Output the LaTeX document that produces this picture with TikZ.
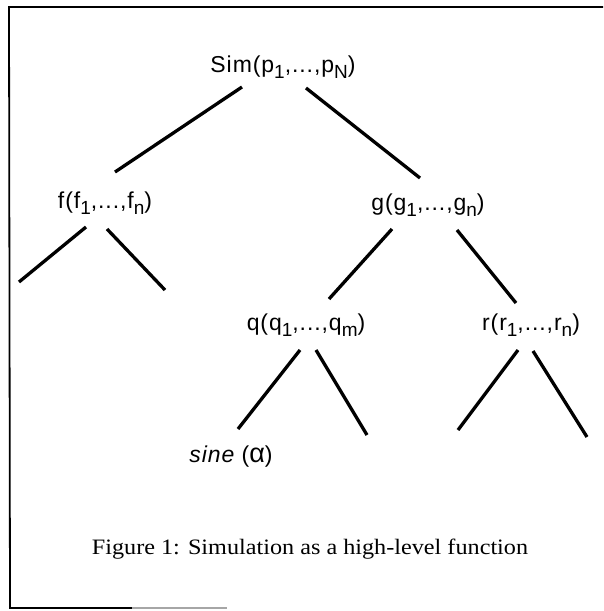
\documentclass[tikz,border=0pt]{standalone}
\usepackage{fontspec}
\setmainfont{Liberation Serif}
\newfontfamily\labfont[LetterSpace=4]{Liberation Sans}
\newcommand{\dn}[1]{\raisebox{-0.24em}{\fontsize{19}{19}\selectfont #1}}
\tikzset{
  lab/.style={inner sep=0pt, font=\labfont\fontsize{23}{26}\selectfont},
  capt/.style={inner sep=0pt, font=\addfontfeature{FakeStretch=1.1}\fontsize{22}{26}\selectfont},
  branch/.style={line width=3.3pt},
  frame/.style={line width=1.8pt}
}
\begin{document}
\begin{tikzpicture}[x=1pt,y=-1pt]
\useasboundingbox (0,0) rectangle (603,611);
% frame
\coordinate (tl) at (9,7);
\coordinate (tr) at (603,7);
\coordinate (bl) at (10,608);
\coordinate (bm) at (132,608);
\coordinate (br) at (227,608);
\draw[frame] (tr) -- (tl) -- (bl) -- (bm);
\draw[frame, gray!70] (bm) -- (br);
% labels
\node[lab] (sim) at (283,67) {Sim(p\dn{1},...,p\dn{N})};
\node[lab] (f) at (105,203) {f(f\dn{1},...,f\dn{n})};
\node[lab] (g) at (428,205) {g(g\dn{1},...,g\dn{n})};
\node[lab] (q) at (306,325) {q(q\dn{1},...,q\dn{m})};
\node[lab] (r) at (531,325) {r(r\dn{1},...,r\dn{n})};
\node[lab] (sine) at (231,457) {{\itshape sine} ({\fontsize{27}{27}\selectfont α})};
\node[capt] (cap) at (310,549) {Figure 1: Simulation as a high-level function};
% connector end points
\coordinate (simL) at (242,87);
\coordinate (simR) at (306,88);
\coordinate (fIn) at (115,172);
\coordinate (gIn) at (420,178);
\coordinate (fL) at (86,227);
\coordinate (fR) at (107,229);
\coordinate (fLe) at (19,282);
\coordinate (fRe) at (165,290);
\coordinate (gL) at (392,229);
\coordinate (gR) at (457,230);
\coordinate (qIn) at (329,299);
\coordinate (rIn) at (516,303);
\coordinate (qL) at (300,350);
\coordinate (qR) at (316,350);
\coordinate (sineIn) at (238,429);
\coordinate (qRe) at (367,435);
\coordinate (rL) at (518,350);
\coordinate (rR) at (533,351);
\coordinate (rLe) at (458,430);
\coordinate (rRe) at (587,437);
% branches
\draw[branch] (simL) -- (fIn);
\draw[branch] (simR) -- (gIn);
\draw[branch] (fL) -- (fLe);
\draw[branch] (fR) -- (fRe);
\draw[branch] (gL) -- (qIn);
\draw[branch] (gR) -- (rIn);
\draw[branch] (qL) -- (sineIn);
\draw[branch] (qR) -- (qRe);
\draw[branch] (rL) -- (rLe);
\draw[branch] (rR) -- (rRe);
\end{tikzpicture}
\end{document}
